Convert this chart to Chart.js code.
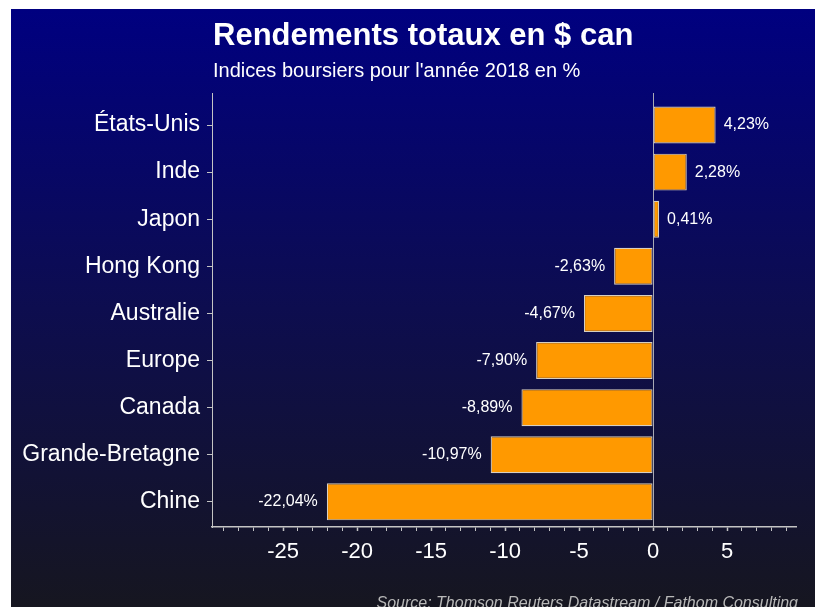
<!DOCTYPE html>
<html>
<head>
<meta charset="utf-8">
<script src="https://cdn.jsdelivr.net/npm/chart.js@4.4.1/dist/chart.umd.min.js"></script>
<style>
  html, body { margin: 0; padding: 0; background: #ffffff; width: 815px; height: 607px; overflow: hidden; }
  #panel { position: absolute; left: 11px; top: 9px; width: 804px; height: 598px;
           background: linear-gradient(to bottom, #000080 0%, #0d0d4f 50%, #161620 100%); }
  #c { position: absolute; left: 0; top: 0; }
  .txt { position: absolute; font-family: "Liberation Sans", Arial, sans-serif; color: #ffffff; white-space: nowrap; }
  #title { left: 213px; top: 19px; font-size: 31px; line-height: 31px; font-weight: bold; }
  #subtitle { left: 213px; top: 60px; font-size: 20px; line-height: 20px; }
  #source { right: 17px; top: 595px; font-size: 16px; line-height: 16px; font-style: italic; color: #b8b8b8; }
</style>
</head>
<body>
<div id="panel"></div>
<canvas id="c" width="815" height="607"></canvas>
<div class="txt" id="title">Rendements totaux en $ can</div>
<div class="txt" id="subtitle">Indices boursiers pour l'année 2018 en %</div>
<div class="txt" id="source">Source: Thomson Reuters Datastream / Fathom Consulting</div>
<script>
const categories = ["États-Unis", "Inde", "Japon", "Hong Kong", "Australie", "Europe", "Canada", "Grande-Bretagne", "Chine"];
const returns2018 = [4.23, 2.28, 0.41, -2.63, -4.67, -7.90, -8.89, -10.97, -22.04];
const xAxisMin = -29.8;
const xAxisMax = 9.66;
const xMajorStep = 5;

const FONT = '"Liberation Sans", Arial, sans-serif';
const AXIS_COLOR = '#c4c4c4';

const valueLabels = {
  id: 'valueLabels',
  afterDatasetsDraw(chart) {
    const ctx = chart.ctx;
    const meta = chart.getDatasetMeta(0);
    ctx.save();
    ctx.font = '16px ' + FONT;
    ctx.fillStyle = '#ffffff';
    ctx.textBaseline = 'middle';
    meta.data.forEach((el, i) => {
      const v = returns2018[i];
      const txt = v.toFixed(2).replace('.', ',') + '%';
      if (v >= 0) {
        ctx.textAlign = 'left';
        ctx.fillText(txt, el.x + 8, el.y);
      } else {
        ctx.textAlign = 'right';
        ctx.fillText(txt, el.x - 9, el.y);
      }
    });
    ctx.restore();
  }
};

const isInt = v => Math.abs(v - Math.round(v)) < 1e-9;

new Chart(document.getElementById('c'), {
  type: 'bar',
  data: {
    datasets: [{
      data: returns2018.map((v, i) => ({ x: v, y: i })),
      backgroundColor: '#FF9900',
      borderColor: '#d8cfc0',
      borderWidth: 1.2,
      borderSkipped: false,
      barPercentage: 0.785,
      categoryPercentage: 1
    }]
  },
  options: {
    indexAxis: 'y',
    responsive: false,
    animation: false,
    devicePixelRatio: 1,
    layout: { padding: { left: 0, top: 93, right: 19, bottom: 0 } },
    plugins: { legend: { display: false }, tooltip: { enabled: false }, title: { display: false } },
    scales: {
      x: {
        type: 'linear',
        position: 'bottom',
        min: xAxisMin,
        max: xAxisMax,
        afterFit: s => { s.height = 80; },
        ticks: {
          stepSize: 1,
          includeBounds: false,
          autoSkip: false,
          maxRotation: 0,
          minRotation: 0,
          color: '#ffffff',
          font: { family: FONT, size: 22 },
          padding: 8,
          callback: v => (isInt(v) && Math.round(v) % xMajorStep === 0) ? String(Math.round(v)) : ''
        },
        grid: {
          drawOnChartArea: true,
          drawTicks: true,
          tickLength: 4,
          lineWidth: 1,
          color: c => (c.tick && Math.abs(c.tick.value) < 1e-9) ? '#a9a9b4' : 'rgba(0,0,0,0)',
          tickColor: c => (c.tick && isInt(c.tick.value)) ? AXIS_COLOR : 'rgba(0,0,0,0)',
          tickWidth: c => (c.tick && isInt(c.tick.value) && Math.round(c.tick.value) % xMajorStep === 0) ? 1.5 : 1
        },
        border: { display: true, color: AXIS_COLOR, width: 1.5 }
      },
      y: {
        type: 'linear',
        reverse: true,
        offset: false,
        min: -0.68,
        max: 8.534,
        afterFit: s => { s.width = 212; },
        ticks: {
          stepSize: 1,
          includeBounds: false,
          autoSkip: false,
          color: '#ffffff',
          font: { family: FONT, size: 23 },
          padding: 7,
          callback: v => (isInt(v) && categories[Math.round(v)] !== undefined) ? categories[Math.round(v)] : ''
        },
        grid: {
          offset: false,
          drawOnChartArea: false,
          drawTicks: true,
          tickLength: 5,
          tickColor: c => (c.tick && isInt(c.tick.value)) ? AXIS_COLOR : 'rgba(0,0,0,0)'
        },
        border: { display: true, color: AXIS_COLOR, width: 1 }
      }
    }
  },
  plugins: [valueLabels]
});
</script>
</body>
</html>
